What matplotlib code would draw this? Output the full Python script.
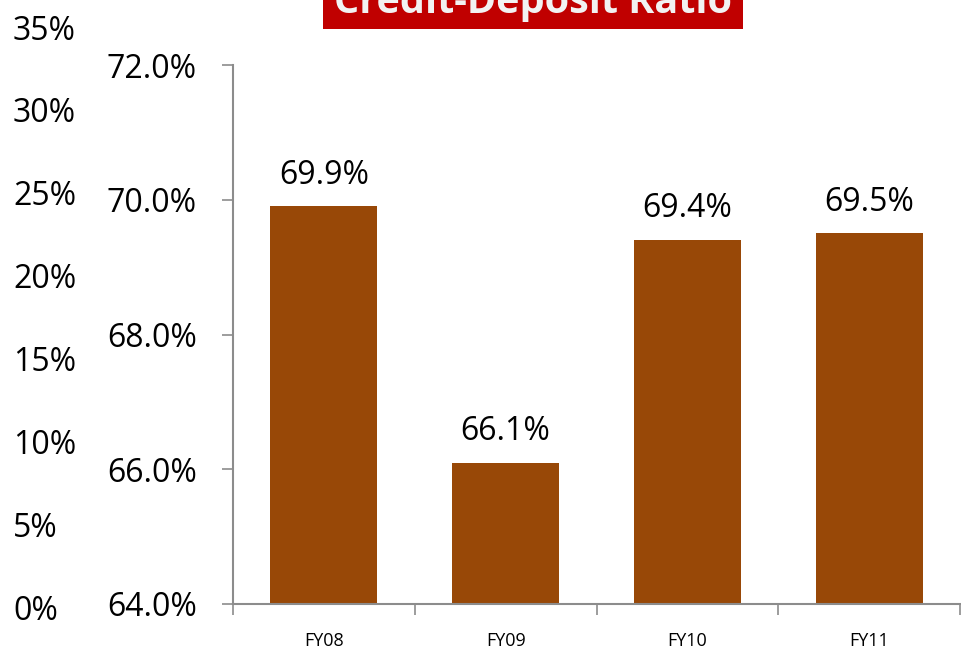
import matplotlib.pyplot as plt
import matplotlib.patches as patches
from matplotlib.ticker import FixedLocator

plt.rcParams['font.family'] = ['Open Sans', 'DejaVu Sans']

# data
years = ['FY08', 'FY09', 'FY10', 'FY11']
cd_ratio = [69.9, 66.1, 69.4, 69.5]
main_ticks = [64.0, 66.0, 68.0, 70.0, 72.0]
stray_ticks = [0, 5, 10, 15, 20, 25, 30, 35]

bar_color = '#984807'
spine_color = '#8c8c8c'

fig = plt.figure(figsize=(9.61, 6.56), dpi=100)

# stray left axis (0%-35%)
ax2 = fig.add_axes([13 / 961, 1 - 607 / 656, 0.01, (607 - 27) / 656])
ax2.set_ylim(0, 35)
ax2.set_yticks(stray_ticks)
ax2.set_yticklabels([f'{v}%' for v in stray_ticks], fontsize=23)
ax2.tick_params(axis='y', length=0, pad=0)
for lbl in ax2.get_yticklabels():
    lbl.set_ha('left')
ax2.set_xticks([])
for sp in ax2.spines.values():
    sp.set_visible(False)
ax2.patch.set_alpha(0)

# main axis
ax = fig.add_axes([233 / 961, 1 - 604 / 656, (960 - 233) / 961, (604 - 65) / 656])
x = list(range(len(years)))
ax.bar(x, [v - 64.0 for v in cd_ratio], bottom=64.0, width=0.59, color=bar_color)
ax.set_ylim(64.0, 72.0)
ax.set_xlim(-0.5, len(years) - 0.5)
ax.set_yticks(main_ticks)
ax.set_yticklabels([f'{v:.1f}%' for v in main_ticks], fontsize=23)
ax.tick_params(axis='y', length=8, width=1.2, color=spine_color, pad=18)

ax.set_xticks(x)
ax.set_xticklabels(years, fontsize=13)
ax.tick_params(axis='x', which='major', length=0, pad=20)
ax.xaxis.set_minor_locator(FixedLocator([i - 0.5 for i in range(len(years) + 1)]))
ax.tick_params(axis='x', which='minor', length=8, width=1.2, color=spine_color)

for sp in ['top', 'right']:
    ax.spines[sp].set_visible(False)
for sp in ['left', 'bottom']:
    ax.spines[sp].set_color(spine_color)
    ax.spines[sp].set_linewidth(1.5)

for xi, v in zip(x, cd_ratio):
    ax.annotate(f'{v:.1f}%', (xi, v), xytext=(0, 16.5), textcoords='offset points',
                ha='center', va='baseline', fontsize=23)

# title box, cut off at the top
fig.patches.append(patches.Rectangle((323 / 961, 1 - 29 / 656), 420 / 961, 40 / 656,
                                     transform=fig.transFigure, facecolor='#c00000',
                                     edgecolor='none', zorder=5))
fig.text(533 / 961, 1 - 13 / 656, 'Credit-Deposit Ratio', ha='center', va='baseline',
         fontsize=28.5, fontweight='bold', color='#f2f2f2', zorder=6)

plt.savefig('out.png', dpi=100)
